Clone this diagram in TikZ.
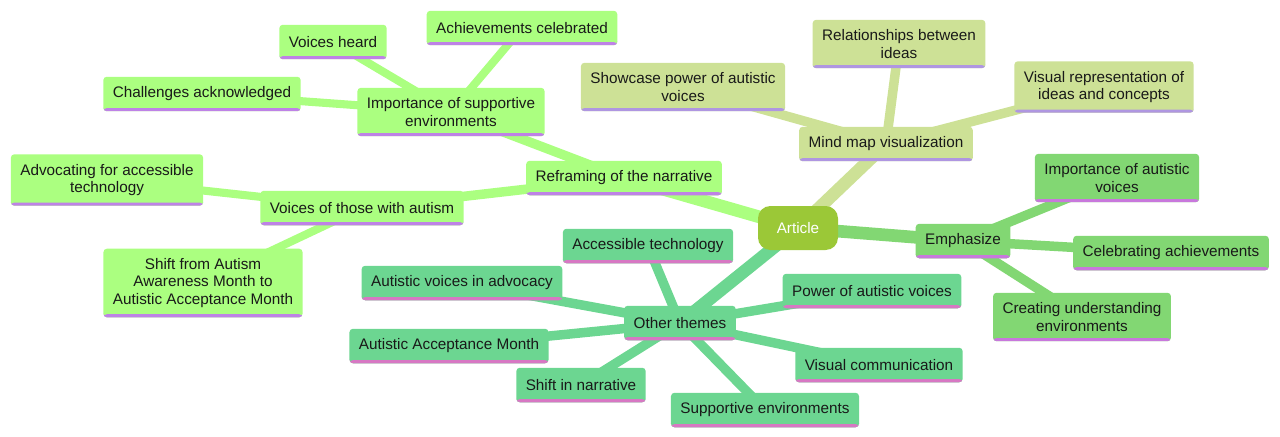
\documentclass[tikz,border=0pt]{standalone}
\usepackage{fontspec}
\setmainfont{Liberation Sans}
\usepackage{tikz}
\usetikzlibrary{backgrounds}
\definecolor{rootgreen}{RGB}{155,200,55}
\definecolor{softlime}{RGB}{171,255,128}
\definecolor{softkhaki}{RGB}{205,225,150}
\definecolor{midgreen}{RGB}{130,215,115}
\definecolor{softteal}{RGB}{108,214,145}
\definecolor{lilaclime}{RGB}{190,130,230}
\definecolor{lilackhaki}{RGB}{175,150,225}
\definecolor{lilacmid}{RGB}{200,120,220}
\definecolor{lilacteal}{RGB}{215,120,195}
\definecolor{textdark}{RGB}{25,25,25}
\newcommand{\mmfont}{\fontsize{8.7pt}{9.8pt}\selectfont}
\tikzset{
  root/.style={rectangle, rounded corners=7pt, fill=rootgreen, text=white,
               minimum width=1.6cm, minimum height=0.88cm, font=\mmfont},
  idea/.style 2 args={rectangle, rounded corners=2pt, fill=#1, text=textdark,
               inner xsep=0.19cm, inner ysep=0.2cm, minimum height=0.69cm,
               align=center, font=\mmfont,
               path picture={\fill[#2] ([yshift=1.8pt]path picture bounding box.south west)
                             rectangle (path picture bounding box.south east);}},
  limeidea/.style={idea={softlime}{lilaclime}},
  khakiidea/.style={idea={softkhaki}{lilackhaki}},
  greenidea/.style={idea={midgreen}{lilacmid}},
  tealidea/.style={idea={softteal}{lilacteal}},
  rootlink/.style={line width=7.2pt},
  sublink/.style={line width=5.4pt},
  leaflink/.style={line width=4.6pt},
}
\begin{document}
\begin{tikzpicture}[x=0.02cm, y=-0.02cm]
\useasboundingbox (0,0) rectangle (1280,436);
\node[root] (art) at (798,228) {Article};

% reframing
\node[limeidea] (refr) at (624,178) {Reframing of the narrative};
\node[limeidea] (supp) at (451,112) {Importance of supportive\\environments};
\node[limeidea] (heard) at (333,42) {Voices heard};
\node[limeidea] (celeb) at (522,28) {Achievements celebrated};
\node[limeidea] (chall) at (202,94) {Challenges acknowledged};
\node[limeidea] (voices) at (362,208) {Voices of those with autism};
\node[limeidea] (advoc) at (107,180) {Advocating for accessible\\technology};
\node[limeidea] (shift) at (203,283) {Shift from Autism\\Awareness Month to\\Autistic Acceptance Month};

% mind map
\node[khakiidea] (mmap) at (886,144) {Mind map visualization};
\node[khakiidea] (show) at (683,87) {Showcase power of autistic\\voices};
\node[khakiidea] (rel) at (899,44) {Relationships between\\ideas};
\node[khakiidea] (vis) at (1104,87) {Visual representation of\\ideas and concepts};

% emphasize
\node[greenidea] (emph) at (963,241) {Emphasize};
\node[greenidea] (impv) at (1117,178) {Importance of autistic\\voices};
\node[greenidea] (cach) at (1171,253) {Celebrating achievements};
\node[greenidea] (cund) at (1082,317) {Creating understanding\\environments};

% other themes
\node[tealidea] (other) at (680,323) {Other themes};
\node[tealidea] (acct) at (648,246) {Accessible technology};
\node[tealidea] (avad) at (462,283) {Autistic voices in advocacy};
\node[tealidea] (pav) at (872,291) {Power of autistic voices};
\node[tealidea] (aam) at (449,346) {Autistic Acceptance Month};
\node[tealidea] (vcom) at (879,365) {Visual communication};
\node[tealidea] (sin) at (581,385) {Shift in narrative};
\node[tealidea] (senv) at (765,410) {Supportive environments};

\begin{scope}[on background layer]
\draw[rootlink, softlime] (art.center) -- (refr.center);
\draw[rootlink, softkhaki] (art.center) -- (mmap.center);
\draw[rootlink, midgreen] (art.center) -- (emph.center);
\draw[rootlink, softteal] (art.center) -- (other.center);

\draw[sublink, softlime] (refr.center) -- (supp.center);
\draw[sublink, softlime] (refr.center) -- (voices.center);
\draw[leaflink, softlime] (supp.center) -- (heard.center);
\draw[leaflink, softlime] (supp.center) -- (celeb.center);
\draw[leaflink, softlime] (supp.center) -- (chall.center);
\draw[leaflink, softlime] (voices.center) -- (advoc.center);
\draw[leaflink, softlime] (voices.center) -- (shift.center);

\draw[sublink, softkhaki] (mmap.center) -- (show.center);
\draw[sublink, softkhaki] (mmap.center) -- (rel.center);
\draw[sublink, softkhaki] (mmap.center) -- (vis.center);

\draw[sublink, midgreen] (emph.center) -- (impv.center);
\draw[sublink, midgreen] (emph.center) -- (cach.center);
\draw[sublink, midgreen] (emph.center) -- (cund.center);

\draw[sublink, softteal] (other.center) -- (acct.center);
\draw[sublink, softteal] (other.center) -- (avad.center);
\draw[sublink, softteal] (other.center) -- (pav.center);
\draw[sublink, softteal] (other.center) -- (aam.center);
\draw[sublink, softteal] (other.center) -- (vcom.center);
\draw[sublink, softteal] (other.center) -- (sin.center);
\draw[sublink, softteal] (other.center) -- (senv.center);
\end{scope}
\end{tikzpicture}
\end{document}
